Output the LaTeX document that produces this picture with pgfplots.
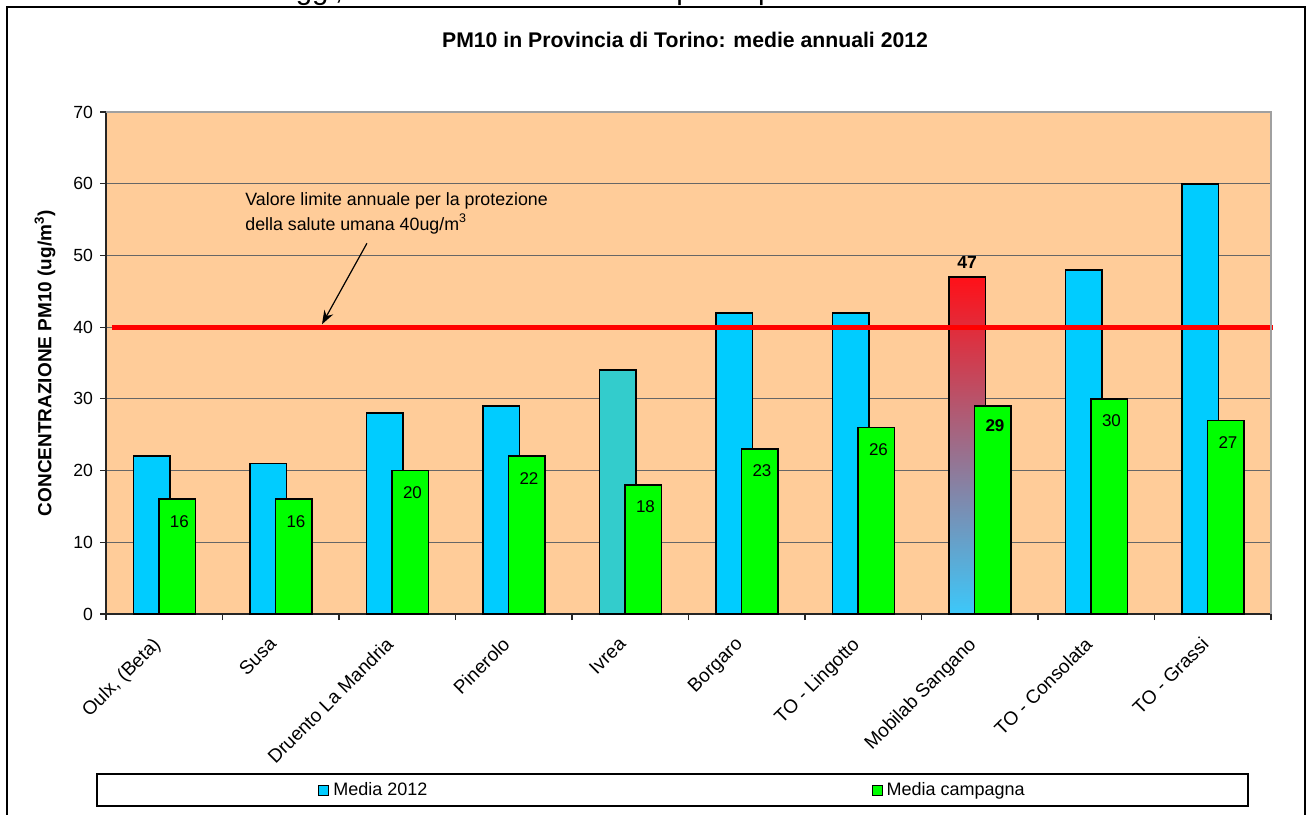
\documentclass[border=0pt]{standalone}
\usepackage{fontspec}
\setmainfont{Liberation Sans}
\usepackage{pgfplots}
\pgfplotsset{compat=1.18}
\usetikzlibrary{arrows.meta}
\definecolor{cblue}{RGB}{0,204,255}
\definecolor{cgreen}{RGB}{0,255,0}
\definecolor{cteal}{RGB}{51,204,204}
\definecolor{cbg}{RGB}{255,204,153}
\definecolor{mobred}{RGB}{255,16,24}
\definecolor{mobmid}{RGB}{222,108,148}
\definecolor{mobblue}{RGB}{60,200,250}
\definecolor{cframe}{RGB}{160,160,160}
\begin{document}
\begin{tikzpicture}
\path[use as bounding box] (0,0) rectangle (654.5pt,407pt);
\node[anchor=base west, inner sep=0pt, font=\fontsize{14.7}{17}\selectfont] at (115pt,407.3pt) {nte oggi, del valore limite annuale per la protezione della salute umana};
\draw[line width=1pt] (3.5pt,-5pt) -- (3.5pt,403.5pt) -- (652.5pt,403.5pt) -- (652.5pt,-5pt);
\draw[line width=0.6pt] (48.5pt,4pt) rectangle (624pt,20pt);
\begin{axis}[
  at={(53pt,100pt)}, anchor=south west, scale only axis,
  width=582.5pt, height=251pt,
  xmin=-0.5, xmax=9.5, ymin=0, ymax=70, clip=false,
  axis x line*=bottom, axis y line*=left,
  axis line style={black!85, line width=0.6pt},
  axis background/.style={fill=cbg},
  ytick={0,10,...,70}, ymajorgrids,
  grid style={black!60, line width=0.5pt},
  xtick={0,...,9},
  xticklabels={{Oulx, (Beta)},Susa,Druento La Mandria,Pinerolo,Ivrea,Borgaro,TO - Lingotto,Mobilab Sangano,TO - Consolata,TO - Grassi},
  minor xtick={-0.5,0.5,...,9.5},
  major x tick style={draw=none},
  tick align=outside, major tick length=3pt, minor tick length=3pt,
  tick style={black!85, line width=0.6pt},
  /pgf/number format/assume math mode=true,
  tick label style={font=\fontsize{8.8}{10}\selectfont},
  xticklabel style={rotate=45, anchor=north east, inner sep=1pt, yshift=0pt, xshift=-9pt, font=\fontsize{9.5}{11}\selectfont},
  title={PM10 in Provincia di Torino: medie annuali 2012},
  title style={at={(axis description cs:0.497,1.1195)}, anchor=center, font=\bfseries\fontsize{10.6}{12}\selectfont},
  ylabel={CONCENTRAZIONE PM10 (ug/m\textsuperscript{3})},
  every axis y label/.style={at={(axis description cs:-0.0524,0.5)}, rotate=90, anchor=center, font=\bfseries\fontsize{9.5}{11}\selectfont},
  legend columns=2,
  legend style={at={(0.182,-0.3506)}, anchor=west, draw=none, fill=none, inner xsep=0pt, inner ysep=0pt,
    font=\fontsize{9}{10}\selectfont, /tikz/every even column/.append style={column sep=220pt}},
  legend image code/.code={\draw[#1] (0pt,-2.5pt) rectangle (5pt,2.5pt);},
]
\addlegendimage{fill=cblue, draw=black, line width=0.5pt}\addlegendentry{Media 2012}
\addlegendimage{fill=cgreen, draw=black, line width=0.5pt}\addlegendentry{Media campagna}
% Media 2012
\addplot[ybar, bar width=18.35pt, bar shift=-6.3pt, fill=cblue, draw=black, line width=0.8pt, forget plot]
  coordinates {(0,22) (1,21) (2,28) (3,29) (5,42) (6,42) (8,48) (9,60)};
\addplot[ybar, bar width=18.35pt, bar shift=-6.3pt, fill=cteal, draw=black, line width=0.8pt, forget plot]
  coordinates {(4,34)};
\addplot[ybar, bar width=18.35pt, bar shift=-6.3pt, top color=mobred, middle color=mobmid, bottom color=mobblue, draw=black, line width=0.8pt, forget plot]
  coordinates {(7,47)};
\addplot[ybar, bar width=18.35pt, bar shift=-6.3pt, draw=none, fill=none, forget plot,
  nodes near coords, every node near coord/.append style={anchor=south, yshift=0.5pt, xshift=-6.3pt, text=black, font=\bfseries\fontsize{8.8}{10}\selectfont}]
  coordinates {(7,47)};
% Media campagna
\addplot[ybar, bar width=18.35pt, bar shift=6.5pt, fill=cgreen, draw=black, line width=0.8pt, forget plot,
  nodes near coords, every node near coord/.append style={anchor=center, yshift=-11pt, xshift=7.6pt, text=black, font=\fontsize{8.5}{10}\selectfont}]
  coordinates {(0,16) (1,16) (2,20) (3,22) (4,18) (5,23) (6,26) (8,30) (9,27)};
\addplot[ybar, bar width=18.35pt, bar shift=6.5pt, fill=cgreen, draw=black, line width=0.8pt, forget plot,
  nodes near coords, every node near coord/.append style={anchor=center, yshift=-10pt, xshift=7.6pt, text=black, font=\bfseries\fontsize{8.5}{10}\selectfont}]
  coordinates {(7,29)};
% limit line
\addplot[red, line width=2.4pt, forget plot] coordinates {(-0.449,40) (9.517,40)};
\draw[cframe, line width=0.6pt] (rel axis cs:0,1) -- (rel axis cs:1,1) -- (rel axis cs:1,0);
\node[anchor=north west, align=left, inner sep=0pt, font=\fontsize{8.9}{12.5}\selectfont] at (axis cs:0.693,58.8)
  {Valore limite annuale per la protezione\\della salute umana 40ug/m\textsuperscript{3}};
\draw[line width=0.6pt, -{Stealth[length=7pt, width=5pt]}] (axis cs:1.740,51.7) -- (axis cs:1.354,40.4);
\end{axis}
\end{tikzpicture}
\end{document}
